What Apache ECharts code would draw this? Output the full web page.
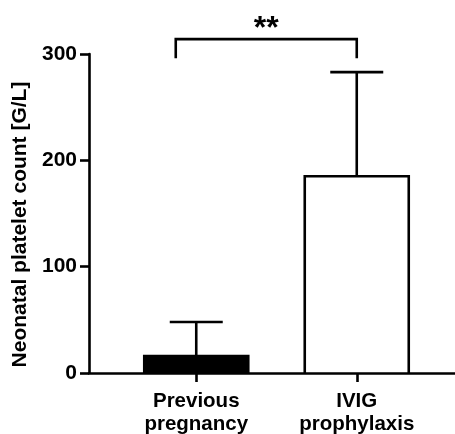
<!DOCTYPE html>
<html><head><meta charset="utf-8">
<script src="https://cdn.jsdelivr.net/npm/echarts@6/dist/echarts.min.js"></script>
<style>html,body{margin:0;padding:0;background:#fff}#c{width:455px;height:434px}</style>
</head><body><div id="c"></div>
<script>
const categories = ['Previous\npregnancy', 'IVIG\nprophylaxis'];
const means = [16, 185];
const upperSD = [48, 283];
const barFills = ['#000', '#fff'];
const yTicks = [0, 100, 200, 300];
const bracket = { from: 0, to: 1, low: 296, high: 314, label: '**' };

const FONT = '"Liberation Sans", Arial, sans-serif';
const chart = echarts.init(document.getElementById('c'), null, {renderer: 'canvas'});
const LW = 2.6;

chart.setOption({
  backgroundColor: '#fff',
  animation: false,
  grid: [
    {left: 89, right: 0, top: 54, bottom: 61, outerBoundsMode: 'none', containLabel: false},
    {left: 116, right: 18, top: 54, bottom: 61, outerBoundsMode: 'none', containLabel: false}
  ],
  xAxis: [
    {gridIndex: 0, type: 'value', min: 0, max: 1, z: 5,
     axisLine: {show: true, lineStyle: {color: '#000', width: LW}},
     axisTick: {show: false}, axisLabel: {show: false}, splitLine: {show: false}},
    {gridIndex: 1, type: 'category', data: categories,
     axisLine: {show: false},
     axisTick: {show: true, alignWithLabel: true, length: 9, lineStyle: {color: '#000', width: LW}},
     axisLabel: {color: '#000', fontFamily: FONT, fontWeight: 'bold', fontSize: 20.5, lineHeight: 23, margin: 17, interval: 0}}
  ],
  yAxis: [
    {gridIndex: 0, type: 'value', min: yTicks[0], max: yTicks[yTicks.length-1], interval: 100,
     name: 'Neonatal platelet count [G/L]', nameLocation: 'middle', nameGap: 55,
     nameTextStyle: {color: '#000', fontFamily: FONT, fontWeight: 'bold', fontSize: 21, padding: [0, 22, 0, 0]},
     axisLine: {show: true, lineStyle: {color: '#000', width: LW}},
     axisTick: {show: true, length: 9, lineStyle: {color: '#000', width: LW}},
     axisLabel: {color: '#000', fontFamily: FONT, fontWeight: 'bold', fontSize: 21, margin: 12},
     splitLine: {show: false}},
    {gridIndex: 1, type: 'value', min: yTicks[0], max: yTicks[yTicks.length-1], interval: 100, show: false, splitLine: {show: false}}
  ],
  series: [
    {type: 'custom', xAxisIndex: 1, yAxisIndex: 1, z: 2, clip: false,
     data: means.map((v, i) => [i, v]),
     renderItem: function (params, api) {
       const i = api.value(0);
       const base = api.coord([i, 0]);
       const top = api.coord([i, api.value(1)]);
       const half = 52;
       const xl = base[0] - half, xr = base[0] + half;
       return {type: 'group', children: [
         {type: 'rect', shape: {x: xl, y: top[1], width: xr - xl, height: base[1] - top[1]}, style: {fill: barFills[i]}},
         {type: 'polyline', shape: {points: [[xl, base[1]], [xl, top[1]], [xr, top[1]], [xr, base[1]]]}, style: {stroke: '#000', lineWidth: LW, fill: null}}
       ]};
     }},
    {type: 'custom', xAxisIndex: 1, yAxisIndex: 1, z: 1, clip: false,
     data: means.map((v, i) => [i, v, upperSD[i]]),
     renderItem: function (params, api) {
       const base = api.coord([api.value(0), api.value(1)]);
       const top = api.coord([api.value(0), api.value(2)]);
       const half = 26.5;
       return {type: 'group', children: [
         {type: 'line', shape: {x1: base[0], y1: base[1], x2: top[0], y2: top[1]}, style: {stroke: '#000', lineWidth: LW}},
         {type: 'line', shape: {x1: top[0] - half, y1: top[1], x2: top[0] + half, y2: top[1]}, style: {stroke: '#000', lineWidth: LW}}
       ]};
     }},
    {type: 'custom', xAxisIndex: 1, yAxisIndex: 1, z: 3, clip: false,
     data: [[bracket.from, bracket.to, bracket.low, bracket.high]],
     renderItem: function (params, api) {
       const a = api.coord([api.value(0), api.value(2)]);
       const b = api.coord([api.value(1), api.value(3)]);
       const xl = a[0] - 20.5, xr = b[0];
       const yl = a[1], yh = b[1];
       return {type: 'group', children: [
         {type: 'polyline', shape: {points: [[xl, yl], [xl, yh], [xr, yh], [xr, yl]]}, style: {stroke: '#000', lineWidth: LW, fill: null}},
         {type: 'text', x: (xl + xr) / 2, y: yh - 10, style: {text: bracket.label, fill: '#000', font: 'bold 32px ' + FONT, align: 'center', verticalAlign: 'middle'}}
       ]};
     }}
  ]
});
</script></body></html>
